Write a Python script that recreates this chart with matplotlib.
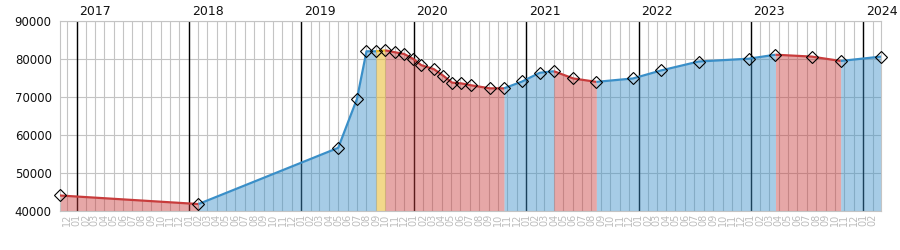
import matplotlib
matplotlib.use("Agg")
import matplotlib.pyplot as plt
import matplotlib.dates as mdates
import matplotlib.transforms as mtransforms
import pandas as pd

# ---- data ----
dates = ["2016-11-08", "2018-02-01", "2019-05-01", "2019-07-01", "2019-08-01",
         "2019-09-01", "2019-10-01", "2019-11-01", "2019-12-01", "2019-12-30",
         "2020-01-26", "2020-03-07", "2020-04-07", "2020-05-05", "2020-06-04",
         "2020-07-06", "2020-09-05", "2020-10-21", "2020-12-19", "2021-02-14",
         "2021-04-01", "2021-06-03", "2021-08-17", "2021-12-14", "2022-03-15",
         "2022-07-15", "2022-12-25", "2023-03-22", "2023-07-18", "2023-10-20",
         "2024-02-28"]
values = [44000, 41750, 56540, 69400, 81950,
          81950, 82200, 81700, 81250, 80000,
          78300, 77250, 75500, 73700, 73500,
          73000, 72200, 72200, 74000, 76300,
          76700, 74800, 73900, 74800, 76900,
          79250, 80000, 81050, 80550, 79400,
          80550]
# category of each segment between consecutive points
segment_kind = ["down",
                "up", "up", "up", "up",
                "flat",
                "down", "down", "down", "down", "down", "down", "down", "down", "down", "down", "down",
                "up", "up", "up",
                "down", "down",
                "up", "up", "up", "up", "up",
                "down", "down",
                "up"]
years = [2017, 2018, 2019, 2020, 2021, 2022, 2023, 2024]
y_ticks = [40000, 50000, 60000, 70000, 80000, 90000]

line_colors = {"up": "#3a8fc8", "down": "#c83c3c", "flat": "#e8b82a"}
fill_alpha = {"up": 0.45, "down": 0.45, "flat": 0.55}

d = mdates.date2num(pd.to_datetime(dates).to_pydatetime())

fig = plt.figure(figsize=(9, 2.5), dpi=100)
ax = fig.add_axes([60 / 900, 1 - 210.7 / 250, (881 - 60) / 900, (210.7 - 20.7) / 250])

ymin, ymax = 40000, 90000
ax.xaxis_date()
ax.set_xlim(d[0], d[-1])
ax.set_ylim(ymin, ymax)

# grid
ax.xaxis.set_major_locator(mdates.MonthLocator())
ax.xaxis.set_major_formatter(mdates.DateFormatter("%m"))
ax.set_yticks(y_ticks)
ax.grid(True, color="#c4c4c4", linewidth=0.8, zorder=0)
ax.set_axisbelow(True)

# year lines and labels
blend = mtransforms.blended_transform_factory(ax.transData, ax.transAxes)
for yr in years:
    yd = mdates.date2num(pd.Timestamp(f"{yr}-01-01").to_pydatetime())
    ax.axvline(yd, color="black", linewidth=1.0, zorder=0.8)
    ax.annotate(str(yr), xy=(yd, 1.0), xycoords=blend, xytext=(2, 2),
                textcoords="offset points", ha="left", va="bottom",
                fontsize=9, color="#111111", annotation_clip=False)

# fills grouped by runs of same kind
i = 0
n = len(segment_kind)
while i < n:
    k = segment_kind[i]
    j = i
    while j + 1 < n and segment_kind[j + 1] == k:
        j += 1
    xs = d[i:j + 2]
    ys = values[i:j + 2]
    ax.fill_between(xs, ys, ymin, color=line_colors[k], alpha=fill_alpha[k],
                    linewidth=0, zorder=1)
    ax.plot(xs, ys, color=line_colors[k], linewidth=1.6, zorder=3,
            solid_capstyle="butt")
    i = j + 1

# markers
ax.plot(d, values, linestyle="none", marker="D", markersize=6,
        markerfacecolor="none", markeredgecolor="black", markeredgewidth=0.8,
        zorder=4, clip_on=False)

for sp in ax.spines.values():
    sp.set_color("#c4c4c4")
    sp.set_linewidth(0.8)

ax.tick_params(axis="y", length=0, pad=6, labelsize=8.5, labelcolor="#111111")
ax.tick_params(axis="x", length=0, pad=2, labelsize=7, labelcolor="#bdbdbd",
               labelrotation=90)
for lab in ax.get_xticklabels():
    lab.set_ha("center")
    lab.set_va("top")

fig.savefig("out.png", dpi=100)
